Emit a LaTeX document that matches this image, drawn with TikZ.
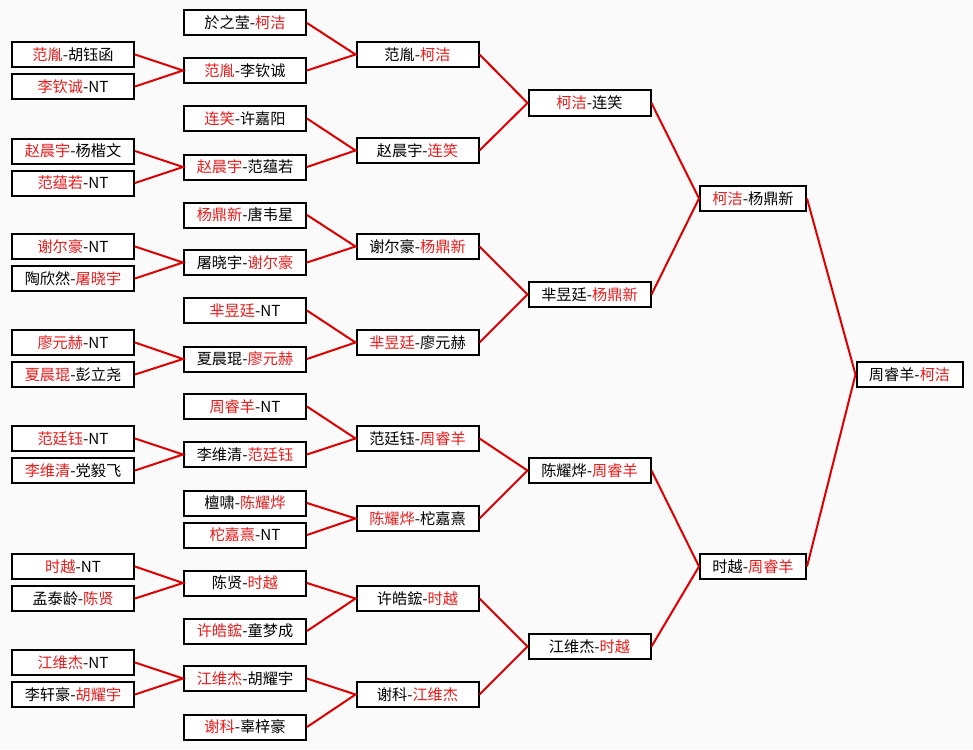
\documentclass[tikz,border=0pt]{standalone}
\usepackage{fontspec}
\setmainfont{Noto Sans CJK SC}
\definecolor{winred}{RGB}{232,28,28}
\definecolor{linered}{RGB}{222,0,0}
\newcommand{\wn}[1]{\textcolor{winred}{#1}}
\begin{document}
\begin{tikzpicture}[x=1pt,y=-1pt,
	box/.style={draw=black,line width=2pt,fill=white,inner sep=0pt,minimum height=25pt,font=\fontsize{15.2}{17}\selectfont},
	wide/.style={box,minimum width=122pt},
	slim/.style={box,minimum width=106pt},
	link/.style={draw=linered,line width=2pt}]
	\fill[black!2] (0,0) rectangle (973,749);
	\useasboundingbox (0,0) rectangle (973,749);
	% first round
	\node[wide] (a1) at (73,54.5) {\wn{范胤}-胡钰函};
	\node[wide] (a2) at (73,86.5) {\wn{李钦诚}-NT};
	\node[wide] (a3) at (73,151) {\wn{赵晨宇}-杨楷文};
	\node[wide] (a4) at (73,183) {\wn{范蕴若}-NT};
	\node[wide] (a5) at (73,246.5) {\wn{谢尔豪}-NT};
	\node[wide] (a6) at (73,278.5) {陶欣然-\wn{屠晓宇}};
	\node[wide] (a7) at (73,342.5) {\wn{廖元赫}-NT};
	\node[wide] (a8) at (73,374.5) {\wn{夏晨琨}-彭立尧};
	\node[wide] (a9) at (73,438.5) {\wn{范廷钰}-NT};
	\node[wide] (a10) at (73,470.5) {\wn{李维清}-党毅飞};
	\node[wide] (a11) at (73,566.5) {\wn{时越}-NT};
	\node[wide] (a12) at (73,598.5) {孟泰龄-\wn{陈贤}};
	\node[wide] (a13) at (73,662.5) {\wn{江维杰}-NT};
	\node[wide] (a14) at (73,694.5) {李轩豪-\wn{胡耀宇}};
	% second round
	\node[wide] (b1) at (245,23) {於之莹-\wn{柯洁}};
	\node[wide] (b2) at (245,70.5) {\wn{范胤}-李钦诚};
	\node[wide] (b3) at (245,118.5) {\wn{连笑}-许嘉阳};
	\node[wide] (b4) at (245,167) {\wn{赵晨宇}-范蕴若};
	\node[wide] (b5) at (245,215) {\wn{杨鼎新}-唐韦星};
	\node[wide] (b6) at (245,262.5) {屠晓宇-\wn{谢尔豪}};
	\node[wide] (b7) at (245,310.5) {\wn{芈昱廷}-NT};
	\node[wide] (b8) at (245,359) {夏晨琨-\wn{廖元赫}};
	\node[wide] (b9) at (245,406.5) {\wn{周睿羊}-NT};
	\node[wide] (b10) at (245,454.5) {李维清-\wn{范廷钰}};
	\node[wide] (b11) at (245,503) {檀啸-\wn{陈耀烨}};
	\node[wide] (b12) at (245,535) {\wn{柁嘉熹}-NT};
	\node[wide] (b13) at (245,583) {陈贤-\wn{时越}};
	\node[wide] (b14) at (245,631) {\wn{许皓鋐}-童梦成};
	\node[wide] (b15) at (245,678.5) {\wn{江维杰}-胡耀宇};
	\node[wide] (b16) at (245,727) {\wn{谢科}-辜梓豪};
	% third round
	\node[wide] (c1) at (417.5,54.5) {范胤-\wn{柯洁}};
	\node[wide] (c2) at (417.5,150.5) {赵晨宇-\wn{连笑}};
	\node[wide] (c3) at (417.5,246.5) {谢尔豪-\wn{杨鼎新}};
	\node[wide] (c4) at (417.5,342.5) {\wn{芈昱廷}-廖元赫};
	\node[wide] (c5) at (417.5,438.5) {范廷钰-\wn{周睿羊}};
	\node[wide] (c6) at (417.5,518.5) {\wn{陈耀烨}-柁嘉熹};
	\node[wide] (c7) at (417.5,598.5) {许皓鋐-\wn{时越}};
	\node[wide] (c8) at (417.5,694.5) {谢科-\wn{江维杰}};
	% quarter finals
	\node[wide] (d1) at (589.5,103) {\wn{柯洁}-连笑};
	\node[wide] (d2) at (589.5,294.5) {芈昱廷-\wn{杨鼎新}};
	\node[wide] (d3) at (589.5,470.5) {陈耀烨-\wn{周睿羊}};
	\node[wide] (d4) at (589.5,646.5) {江维杰-\wn{时越}};
	% semi finals and final
	\node[slim] (e1) at (753,198.5) {\wn{柯洁}-杨鼎新};
	\node[slim] (e2) at (753,566.5) {时越-\wn{周睿羊}};
	\node[slim] (f) at (909.5,374.5) {周睿羊-\wn{柯洁}};
	% connectors
	\draw[link] (a1.east)--(b2.west)--(a2.east) (a3.east)--(b4.west)--(a4.east) (a5.east)--(b6.west)--(a6.east);
	\draw[link] (a7.east)--(b8.west)--(a8.east) (a9.east)--(b10.west)--(a10.east) (a11.east)--(b13.west)--(a12.east);
	\draw[link] (a13.east)--(b15.west)--(a14.east);
	\draw[link] (b1.east)--(c1.west)--(b2.east) (b3.east)--(c2.west)--(b4.east) (b5.east)--(c3.west)--(b6.east);
	\draw[link] (b7.east)--(c4.west)--(b8.east) (b9.east)--(c5.west)--(b10.east) (b11.east)--(c6.west)--(b12.east);
	\draw[link] (b13.east)--(c7.west)--(b14.east) (b15.east)--(c8.west)--(b16.east);
	\draw[link] (c1.east)--(d1.west)--(c2.east) (c3.east)--(d2.west)--(c4.east) (c5.east)--(d3.west)--(c6.east) (c7.east)--(d4.west)--(c8.east);
	\draw[link] (d1.east)--(e1.west)--(d2.east) (d3.east)--(e2.west)--(d4.east);
	\draw[link] (e1.east)--(f.west)--(e2.east);
\end{tikzpicture}
\end{document}
